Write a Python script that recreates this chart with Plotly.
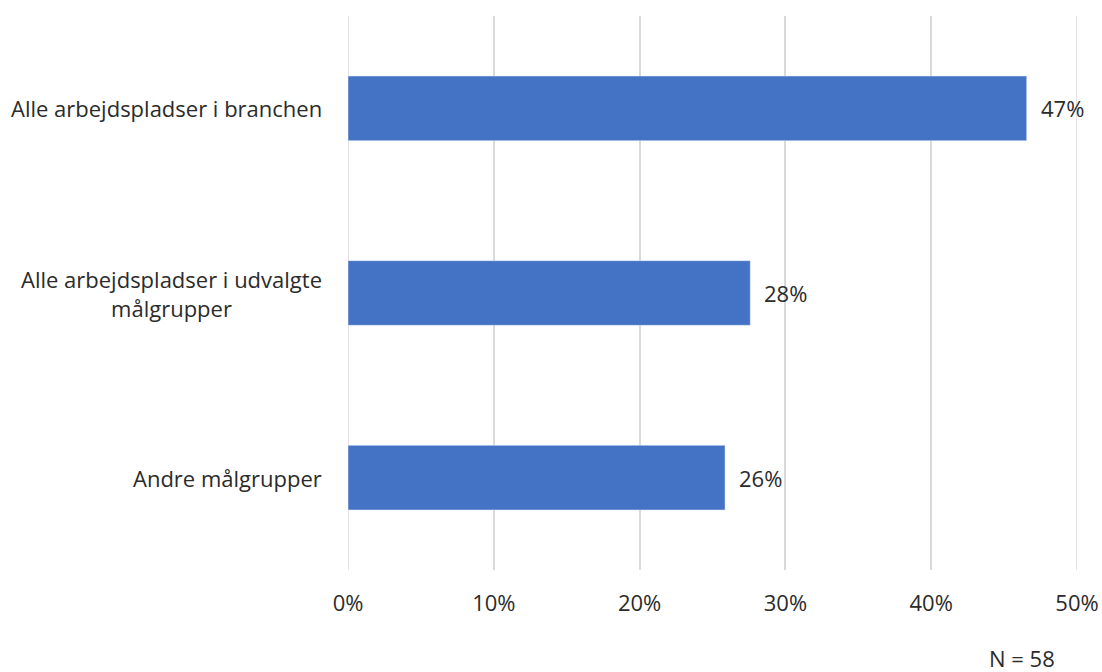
import plotly.graph_objects as go

# Survey answers (N = 58), share of respondents
categories = ["Alle arbejdspladser i branchen",
              "Alle arbejdspladser i udvalgte<br>målgrupper",
              "Andre målgrupper"]
shares = [0.4655, 0.2759, 0.2586]
labels = ["47%", "28%", "26%"]
note = "N = 58"
x_ticks = [0, 0.1, 0.2, 0.3, 0.4, 0.5]

font_family = "Open Sans"
text_color = "#2b2b2b"
grid_color = "#d9d9d9"
fsize = 22

fig = go.Figure()
fig.add_trace(go.Bar(
    x=shares, y=categories, orientation="h",
    marker_color="#4472C4",
))

# plotly leaves out gridlines on the plot edges, so draw 0% and 50% by hand
for t in (x_ticks[0], x_ticks[-1]):
    fig.add_vline(x=t, line_color=grid_color, line_width=1.5, layer="below")

# value labels, a little away from the bar ends
for cat, val, lab in zip(categories, shares, labels):
    fig.add_annotation(x=val, y=cat, xref="x", yref="y", text=lab,
                       showarrow=False, xanchor="left", xshift=12,
                       font=dict(size=fsize, color=text_color, family=font_family))

# category labels as annotations so that wrapped lines are centred
for cat in categories:
    fig.add_annotation(x=0, y=cat, xref="paper", yref="y", text=cat,
                       showarrow=False, xanchor="right", align="center",
                       xshift=-24, font=dict(size=fsize, color=text_color, family=font_family))

fig.add_annotation(x=0.4623, y=-0.158, xref="x", yref="paper", text=note,
                   showarrow=False, xanchor="center", yanchor="middle",
                   font=dict(size=fsize, color=text_color, family=font_family))

fig.update_layout(
    width=1102, height=672,
    margin=dict(l=348, r=25, t=16, b=102),
    plot_bgcolor="white", paper_bgcolor="white",
    bargap=0.65, showlegend=False,
    font=dict(family=font_family, color=text_color, size=fsize),
)
fig.update_xaxes(range=[0, 0.5], tickvals=x_ticks, tickformat=".0%",
                 showgrid=True, gridcolor=grid_color, gridwidth=1.5,
                 zeroline=False, showline=False, automargin=False,
                 ticks="outside", ticklen=14, tickcolor="rgba(0,0,0,0)",
                 tickfont=dict(size=fsize, color=text_color))
fig.update_yaxes(autorange="reversed", showticklabels=False, showgrid=False,
                 zeroline=False, showline=False, automargin=False)

# drop the browser's default body margin so the figure fills the window exactly
fig.write_html("out.html", config={"displayModeBar": False},
               post_script="document.body.style.margin='0';document.body.style.overflow='hidden';")
